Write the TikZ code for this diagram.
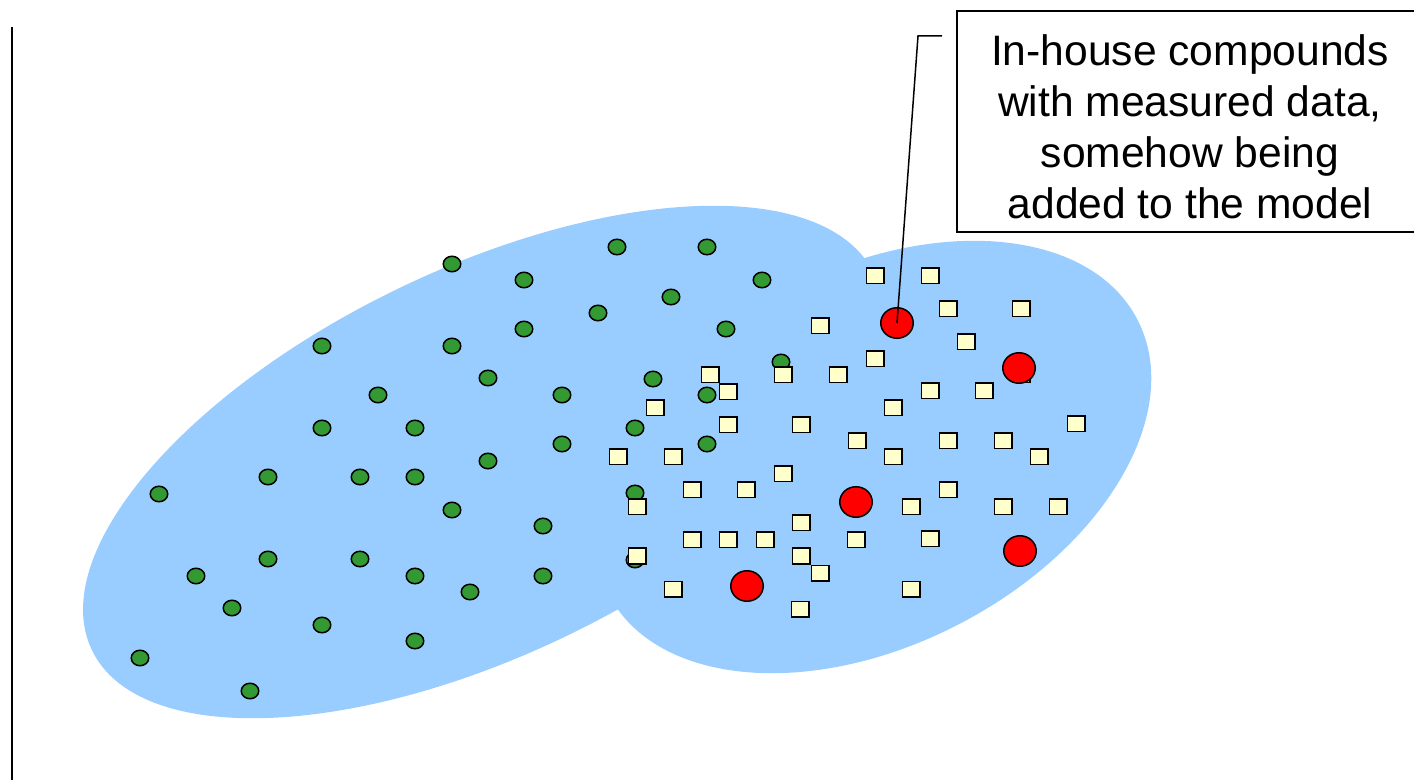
\documentclass[tikz,border=0pt]{standalone}
\usepackage{fontspec}
\setmainfont{Liberation Sans}
\usetikzlibrary{shapes.geometric}
\definecolor{blobblue}{RGB}{153,204,255}
\definecolor{cgreen}{RGB}{51,153,51}
\definecolor{cyellow}{RGB}{255,255,204}
\definecolor{cred}{RGB}{255,0,0}
\begin{document}
\begin{tikzpicture}[x=0.5pt,y=-0.5pt,
  greencomp/.style={ellipse, draw=black, line width=0.75pt, fill=cgreen, minimum width=8.75pt, minimum height=7.75pt, inner sep=0pt},
  sqcomp/.style={rectangle, draw=black, line width=0.75pt, fill=cyellow, minimum width=8.75pt, minimum height=7.75pt, inner sep=0pt},
  redcomp/.style={ellipse, draw=black, line width=0.75pt, fill=cred, minimum width=16.25pt, minimum height=15.25pt, inner sep=0pt},
  calloutbox/.style={draw=black, line width=0.75pt, fill=white, minimum width=233pt, minimum height=110.5pt, inner sep=0pt},
  callouttext/.style={inner sep=0pt, align=center, font=\fontsize{21.3pt}{25.5pt}\selectfont}]
\useasboundingbox (0,0) rectangle (1414,780);
\clip (0,0) rectangle (1414,780);
\fill[white] (0,0) rectangle (1414,780);
% blob
\fill[blobblue] (483,462) ellipse [x radius=217pt, y radius=96.5pt, rotate=25.7];
\fill[blobblue] (873,457) ellipse [x radius=149pt, y radius=94pt, rotate=27.5];
% left line
\coordinate (lt) at (12,27);
\coordinate (lb) at (12,780);
\draw[line width=1pt] (lt) -- (lb);
% green compounds
\foreach \x/\y [count=\i] in {452/264,617/247,707/247,524/280,762/280,671/297,598/313,524/329,726/329,322/346,452/346,488/378,653/379,781/362,378/395,562/395,707/395,322/428,415/428,635/428,562/444,707/444,488/461,268/477,360/477,415/477,159/494,635/493,452/510,543/526,268/559,360/559,635/560,196/576,415/576,543/576,470/592,232/608,322/625,415/641,140/658,250/691}
  \node[greencomp] (g\i) at (\x,\y) {};
% squares
\foreach \x/\y [count=\i] in {875/276,930/276,948/309,1021/309,820/326,966/342,875/359,710/375,783/375,838/375,728/392,930/391,984/391,655/408,893/408,728/425,801/425,1076/424,857/441,948/441,1003/441,618/457,673/457,893/457,1039/457,783/474,692/490,746/490,948/490,637/507,911/507,1003/507,1058/507,801/523,692/540,728/540,765/540,856/540,930/539,637/556,801/556,820/573,673/589,911/589,800/609,1021/375}
  \node[sqcomp] (s\i) at (\x,\y) {};
% red compounds
\foreach \x/\y [count=\i] in {897/323,1019/368,856/502,1020/551,747/586}
  \node[redcomp] (r\i) at (\x,\y) {};
% callout
\coordinate (bend) at (918,36);
\coordinate (tip) at (942,36);
\draw[line width=0.75pt] (r1.center) -- (bend) -- (tip);
\node[calloutbox] (box) at (1190,121.5) {};
\node[callouttext] (txt) at ([yshift=-2.6pt]box.center) {In-house compounds\\with measured data,\\somehow being\\added to the model};
\end{tikzpicture}
\end{document}
